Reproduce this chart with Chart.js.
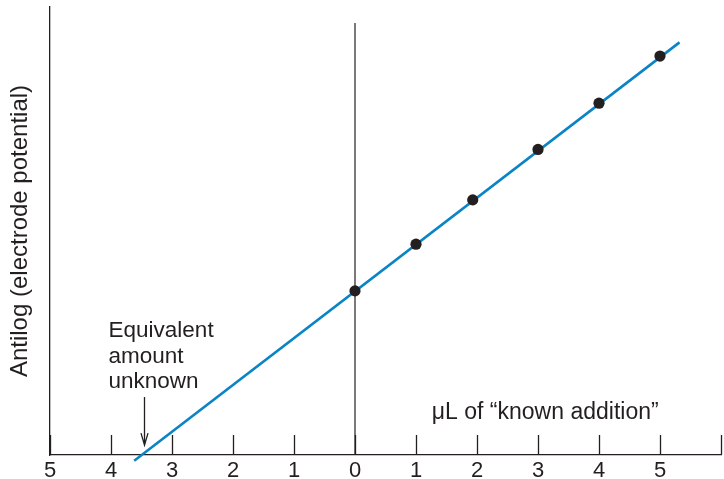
<!DOCTYPE html>
<html>
<head>
<meta charset="utf-8">
<script src="https://cdn.jsdelivr.net/npm/chart.js@4/dist/chart.umd.min.js"></script>
<style>
  html, body { margin: 0; padding: 0; background: #ffffff; }
  canvas { display: block; }
</style>
</head>
<body>
<canvas id="chart" width="724" height="479"></canvas>
<script>
// Known-addition volumes (µL) and the antilog of the measured electrode potential
const additionVolumes = [0, 1, 1.93, 3, 4, 5];
const antilogPotentials = [3.48, 4.47, 5.41, 6.48, 7.46, 8.46];

// Least-squares line, extended back until it meets the volume axis
const fitLineX = [-3.62, 5.32];
const fitLineY = [-0.12, 8.75];

// Reference line at zero addition
const zeroLineX = [0, 0];
const zeroLineY = [0, 9.16];

// Volume axis: values to the left of zero are read as positive amounts of unknown
const xTickValues = [-5, -4, -3, -2, -1, 0, 1, 2, 3, 4, 5, 6];
const xTickLabels = ['5', '4', '3', '2', '1', '0', '1', '2', '3', '4', '5', ''];

const INK = '#231f20';
const BLUE = '#0a84c6';
const FONT_FAMILY = '"Liberation Sans", Arial, Helvetica, sans-serif';

const toPoints = (xs, ys) => xs.map((x, i) => ({ x: x, y: ys[i] }));

// Short tick marks pointing up from the volume axis
const innerTicks = {
  id: 'innerTicks',
  afterDraw(chart) {
    const { ctx, chartArea, scales: { x } } = chart;
    ctx.save();
    ctx.strokeStyle = INK;
    ctx.lineWidth = 1.3;
    xTickValues.forEach(v => {
      const px = Math.round(x.getPixelForValue(v)) + 0.5;
      ctx.beginPath();
      ctx.moveTo(px, chartArea.bottom);
      ctx.lineTo(px, chartArea.bottom - 20);
      ctx.stroke();
    });
    ctx.restore();
  }
};

// Axis caption and the "equivalent amount" callout with its arrow
const callouts = {
  id: 'callouts',
  afterDraw(chart) {
    const { ctx, scales: { x, y } } = chart;
    ctx.save();
    ctx.fillStyle = INK;
    ctx.textAlign = 'left';
    ctx.textBaseline = 'alphabetic';

    ctx.font = '23px ' + FONT_FAMILY;
    ctx.fillText('\u03bcL of \u201cknown addition\u201d', x.getPixelForValue(1.26), y.getPixelForValue(0.76));

    ctx.font = '22.5px ' + FONT_FAMILY;
    const noteLines = ['Equivalent', 'amount', 'unknown'];
    const noteX = x.getPixelForValue(-4.04);
    const noteY = y.getPixelForValue(2.5);
    noteLines.forEach((t, i) => ctx.fillText(t, noteX, noteY + i * 25.5));

    // arrow down to the intercept
    const ax = Math.round(x.getPixelForValue(-3.46)) + 0.5;
    const ay1 = y.getPixelForValue(1.23);
    const ay2 = y.getPixelForValue(0.21);
    ctx.strokeStyle = INK;
    ctx.lineWidth = 1.3;
    ctx.beginPath();
    ctx.moveTo(ax, ay1);
    ctx.lineTo(ax, ay2);
    ctx.moveTo(ax - 3.5, ay2 - 12);
    ctx.lineTo(ax, ay2);
    ctx.lineTo(ax + 3.5, ay2 - 12);
    ctx.stroke();
    ctx.restore();
  }
};

new Chart(document.getElementById('chart'), {
  type: 'scatter',
  data: {
    datasets: [
      {
        label: 'measurements',
        data: toPoints(additionVolumes, antilogPotentials),
        showLine: false,
        pointRadius: 5.6,
        pointBackgroundColor: INK,
        pointBorderWidth: 0
      },
      {
        label: 'fit',
        data: toPoints(fitLineX, fitLineY),
        showLine: true,
        borderColor: BLUE,
        borderWidth: 2.6,
        pointRadius: 0,
        clip: false
      },
      {
        label: 'zero',
        data: toPoints(zeroLineX, zeroLineY),
        showLine: true,
        borderColor: INK,
        borderWidth: 1.2,
        pointRadius: 0
      }
    ]
  },
  options: {
    responsive: false,
    animation: false,
    devicePixelRatio: 1,
    layout: { autoPadding: false, padding: { top: 7, right: 3, left: 0, bottom: 0 } },
    plugins: {
      legend: { display: false },
      tooltip: { enabled: false }
    },
    scales: {
      x: {
        type: 'linear',
        min: -5,
        max: 6,
        afterBuildTicks(scale) {
          scale.ticks = xTickValues.map(v => ({ value: v }));
        },
        afterFit(scale) {
          scale.height = 24;
          scale.paddingLeft = 0;
          scale.paddingRight = 0;
        },
        ticks: {
          autoSkip: false,
          maxRotation: 0,
          padding: 3,
          color: INK,
          font: { family: FONT_FAMILY, size: 22 },
          callback: (value) => xTickLabels[xTickValues.indexOf(value)]
        },
        grid: { display: true, drawOnChartArea: false, drawTicks: false },
        border: { display: true, color: INK, width: 1.3 }
      },
      y: {
        type: 'linear',
        min: 0,
        max: 9.5,
        afterFit(scale) {
          scale.width = 50;
          scale.paddingTop = 0;
          scale.paddingBottom = 0;
        },
        ticks: { display: false },
        grid: { display: true, drawOnChartArea: false, drawTicks: false },
        border: { display: true, color: INK, width: 1.3 },
        title: {
          display: true,
          text: 'Antilog (electrode potential)',
          color: INK,
          font: { family: FONT_FAMILY, size: 24 },
          padding: { top: 6, bottom: 0 }
        }
      }
    }
  },
  plugins: [innerTicks, callouts]
});
</script>
</body>
</html>
